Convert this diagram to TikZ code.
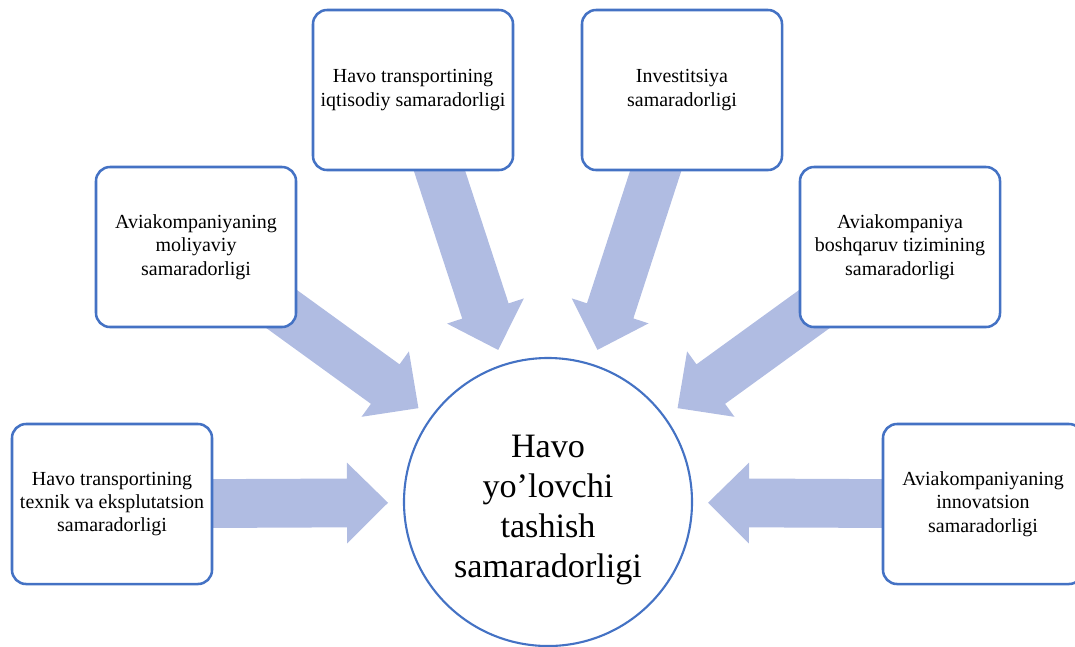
\documentclass[tikz,border=0pt]{standalone}
\usepackage{fontspec}
\setmainfont{Liberation Serif}
\usepackage{tikz}
\usetikzlibrary{calc}
\pgfdeclarelayer{bg}
\pgfsetlayers{bg,main}
\definecolor{boxblue}{RGB}{68,114,196}
\definecolor{arrowblue}{RGB}{176,188,226}

\begin{document}
\begin{tikzpicture}[
			x=0.25mm, y=-0.25mm,
			factor/.style={draw=boxblue, line width=1.8pt, fill=white, rounded corners=3.5mm,
				minimum width=50mm, minimum height=40mm, align=center, inner sep=2pt,
				font=\fontsize{14.2}{16.6}\selectfont},
			hub/.style={circle, draw=boxblue, line width=1.5pt, fill=white, minimum size=72mm},
			hubtext/.style={align=center, inner sep=0pt, yshift=-2mm, font=\fontsize{24.3}{28.5}\selectfont}
			]
			\def\shaft{6.1mm}
			\def\head{10.1mm}
			\def\headlen{10.25mm}

			\useasboundingbox (0,0) rectangle (1075,646);

			\node[hub, label={[hubtext]center:{Havo\\yo’lovchi\\tashish\\samaradorligi}}] (hub) at (548,502) {};

			\node[factor] (techbox) at (112,504) {Havo transportining\\texnik va eksplutatsion\\samaradorligi};
			\node[factor] (finbox) at (196,247) {Aviakompaniyaning\\moliyaviy\\samaradorligi};
			\node[factor] (econbox) at (413,90) {Havo transportining\\iqtisodiy samaradorligi};
			\node[factor] (investbox) at (682,90) {Investitsiya\\samaradorligi};
			\node[factor] (mgmtbox) at (900,247) {Aviakompaniya\\boshqaruv tizimining\\samaradorligi};
			\node[factor] (innovbox) at (983,504) {Aviakompaniyaning\\innovatsion\\samaradorligi};

			% block arrows, under the boxes
			\begin{pgfonlayer}{bg}
			\foreach \b in {techbox,finbox,econbox,investbox,mgmtbox,innovbox}{
				\coordinate (tip) at ($(hub.center)!40mm!(\b.center)$);
				\coordinate (neck) at ($(tip)!\headlen!(\b.center)$);
				\fill[arrowblue] ($(\b.center)!\shaft!90:(tip)$) -- ($(neck)!\shaft!-90:(\b.center)$)
					-- ($(neck)!\head!-90:(\b.center)$) -- (tip) -- ($(neck)!\head!90:(\b.center)$)
					-- ($(neck)!\shaft!90:(\b.center)$) -- ($(\b.center)!\shaft!-90:(tip)$) -- cycle;
			}
			\end{pgfonlayer}

\end{tikzpicture}
\end{document}
